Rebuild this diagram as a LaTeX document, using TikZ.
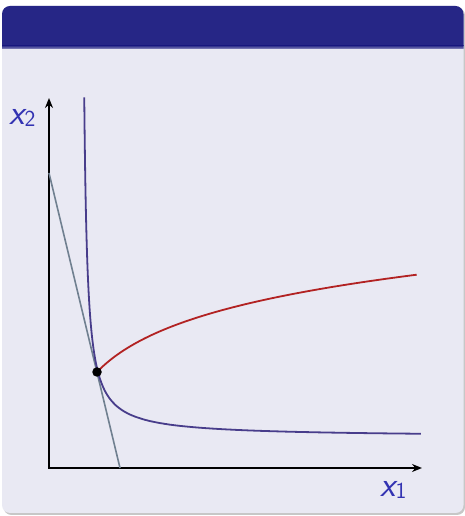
\documentclass[tikz,border=0pt]{standalone}
\usetikzlibrary{arrows.meta}
\definecolor{titlebg}{RGB}{38,38,134}
\definecolor{bodybg}{RGB}{233,233,243}
\definecolor{labelblue}{RGB}{51,51,178}
\definecolor{icblue}{RGB}{72,61,139}
\definecolor{expred}{RGB}{178,34,34}
\definecolor{budgetgray}{RGB}{112,128,144}
\newcommand\varlab[2]{{\fontsize{35}{40}\selectfont\sffamily\itshape #1}\raisebox{-0.12em}{\fontsize{23}{26}\selectfont\sffamily #2}}
\begin{document}
\begin{tikzpicture}[x=1pt,y=1pt,
  axis/.style={line width=1.8pt,line join=miter,{Stealth[length=10pt,width=8pt]}-{Stealth[length=10pt,width=8pt]}},
  curve/.style={line width=1.8pt},
  lab/.style={text=labelblue,inner sep=0pt},
  dotnode/.style={circle,fill=black,inner sep=0pt,minimum size=9.5pt}]
\useasboundingbox (0,0) rectangle (465,516);
\fill[white] (0,0) rectangle (465,516);
% block shadow
\fill[black!22,rounded corners=8pt] (3.5,1) rectangle (465,508.5);
% block body
\fill[bodybg,rounded corners=8pt] (2,3) rectangle (463.5,510);
% block title
\begin{scope}
  \clip[rounded corners=8pt] (2,3) rectangle (463.5,510);
  \fill[titlebg] (0,470) rectangle (465,516);
  \shade[top color=titlebg,bottom color=titlebg!45!bodybg] (0,467) rectangle (465,470.5);
\end{scope}
% axes
\coordinate (O) at (49,48);
\coordinate (ytip) at (49,418);
\coordinate (xtip) at (422,48);
\draw[axis] (ytip) -- (O) -- (xtip);
\node[lab] (x2) at (22.5,398) {\varlab{x}{2}};
\node[lab] (x1) at (393.5,26) {\varlab{x}{1}};
% budget line
\coordinate (bA) at (49,343);
\coordinate (bB) at (120,48);
\draw[curve,budgetgray,line width=1.6pt] (bA) -- (bB);
% indifference curve and expansion path
\begin{scope}[shift={(O)}]
  \draw[curve,icblue] plot[domain=1.18:5.83,samples=160,variable=\t,smooth] ({32+exp(\t)},{31+1105*exp(-\t)});
  \draw[curve,expred] plot[domain=0:319.7,samples=100,smooth] ({48+\x},{96+46.5*ln(1+\x/45)});
\end{scope}
\node[dotnode] (opt) at (97,144) {};
\end{tikzpicture}
\end{document}
